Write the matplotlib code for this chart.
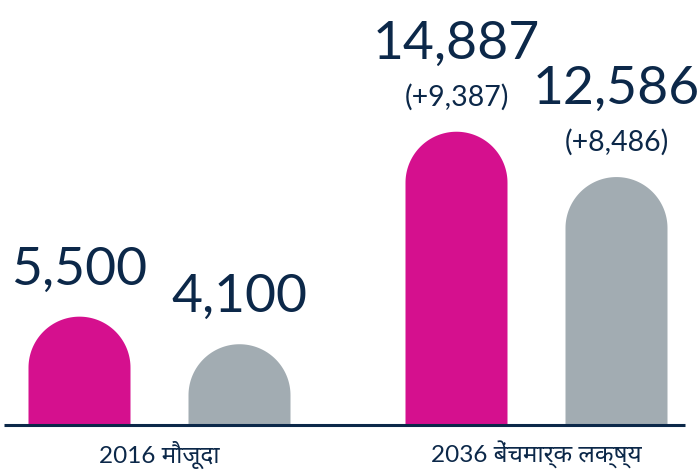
import numpy as np
import matplotlib
matplotlib.use("Agg")
import matplotlib.pyplot as plt
from matplotlib.patches import Polygon

# data
groups = ["2016 मौजूदा", "2036 बेंचमार्क लक्ष्य"]
current = [5500, 4100]
target = [14887, 12586]
change = [9387, 8486]

magenta = "#d5108e"
grey = "#a2acb2"
navy = "#0c2849"

plt.rcParams["font.family"] = ["Lato", "Noto Sans Devanagari", "Lohit Devanagari", "FreeSans", "DejaVu Sans"]

W, H = 699, 470
fig = plt.figure(figsize=(W / 100, H / 100), dpi=100)
ax = fig.add_axes([0, 0, 1, 1])

px_per_unit = 0.0197        # pixels per data unit on y
base_px = 45                # baseline distance from bottom
ax.set_xlim(0, W)
ax.set_ylim(-base_px / px_per_unit, (H - base_px) / px_per_unit)
ax.axis("off")

group_x = [159.5, 536.5]
offset = 80
bar_w = 102
r_y = (bar_w / 2) / px_per_unit
big = 38.5


def round_bar(cx, val, color):
    t = np.linspace(0, np.pi, 80)
    xs = cx + (bar_w / 2) * np.cos(t)
    ys = (val - r_y) + r_y * np.sin(t)
    verts = [(cx + bar_w / 2, 0)] + list(zip(xs, ys)) + [(cx - bar_w / 2, 0)]
    ax.add_patch(Polygon(verts, closed=True, facecolor=color, edgecolor="none"))


vals = [current, target]
for gi, gx in enumerate(group_x):
    for bi, (v, c) in enumerate(zip(vals[gi], [magenta, grey])):
        cx = gx + (bi * 2 - 1) * offset
        round_bar(cx, v, c)
        if gi == 0:
            ax.annotate(f"{v:,}", (cx, v), xytext=(0, 32 * 0.72), textcoords="offset points",
                        ha="center", va="baseline", fontsize=big, color=navy)
        else:
            d = change[bi]
            ax.annotate(f"(+{d:,})", (cx, v), xytext=(0, 26 * 0.72), textcoords="offset points",
                        ha="center", va="baseline", fontsize=20.5, color=navy)
            ax.annotate(f"{v:,}", (cx, v), xytext=(0, 73 * 0.72), textcoords="offset points",
                        ha="center", va="baseline", fontsize=big, color=navy)

ax.plot([4, 685], [0, 0], color=navy, lw=2.2, solid_capstyle="butt")

for gx, g in zip(group_x, groups):
    ax.annotate(g, (gx, 0), xytext=(0, -(463 - 425) * 0.72), textcoords="offset points",
                ha="center", va="baseline", fontsize=17.5, color=navy)

fig.savefig("out.png", dpi=100)
